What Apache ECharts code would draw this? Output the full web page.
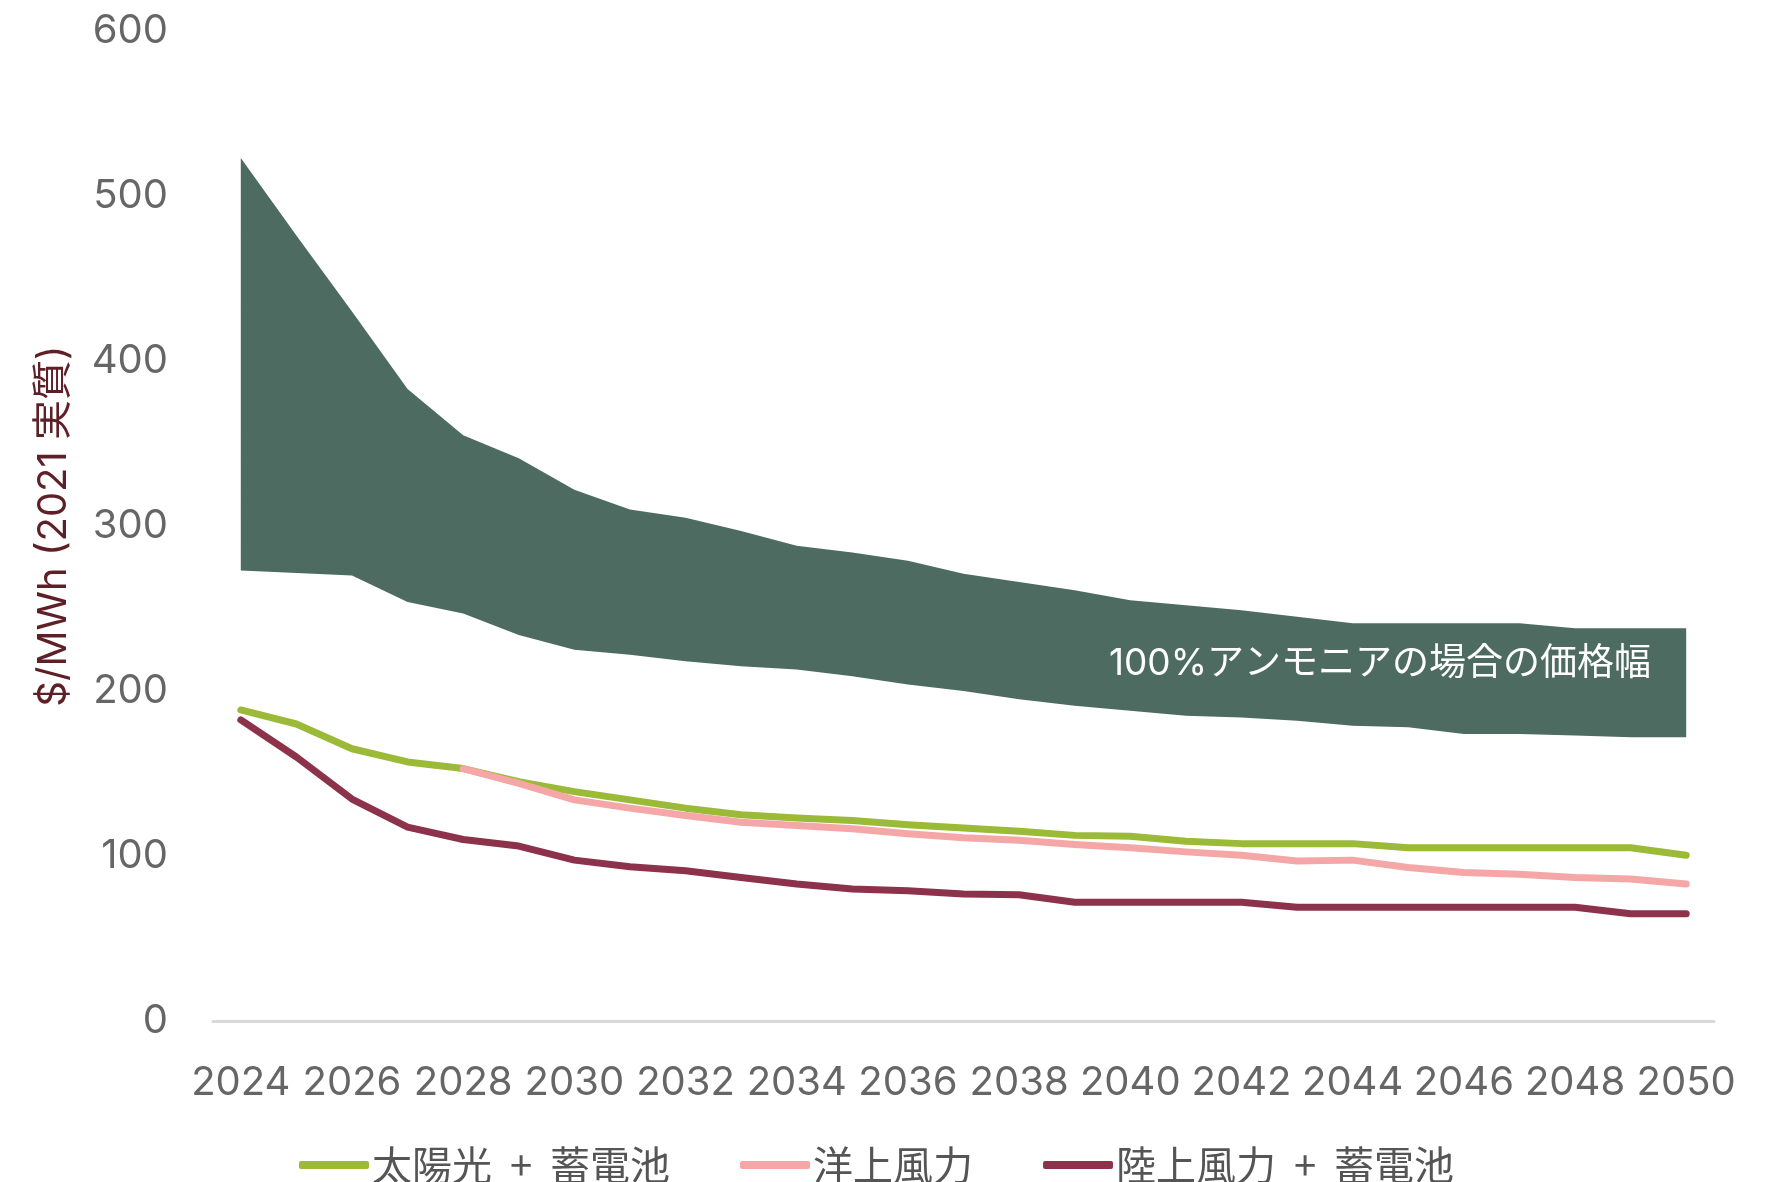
<!DOCTYPE html>
<html>
<head>
<meta charset="utf-8">
<script src="https://cdn.jsdelivr.net/npm/echarts@6/dist/echarts.min.js"></script>
<style>
  html, body { margin: 0; padding: 0; background: #fff; }
  #main { width: 1788px; height: 1182px; }
</style>
</head>
<body>
<div id="main"></div>
<script>
/* データ */
var years = ['2024', '2025', '2026', '2027', '2028', '2029', '2030', '2031', '2032', '2033', '2034', '2035', '2036', '2037',
    '2038', '2039', '2040', '2041', '2042', '2043', '2044', '2045', '2046', '2047', '2048', '2049', '2050'];
var yTicks = [0, 100, 200, 300, 400, 500, 600];

// 100%アンモニアの場合の価格幅 (下限・上限)
var bandLow = [273, 271.5, 270, 254, 247, 234, 225, 222, 218, 215, 213, 209, 204, 200,
    195, 191, 188, 185, 184, 182, 179, 178, 174, 174, 173, 172, 172];
var bandHigh = [523, 476, 430, 383, 355, 341, 322, 310, 305, 297, 288, 284, 279, 271,
    266, 261, 255, 252, 249, 245, 241, 241, 241, 241, 238, 238, 238];

// 太陽光 + 蓄電池
var solarBattery = [188.5, 180, 165, 157, 153, 145, 139, 134, 129, 125, 123, 121.5, 119, 117,
    115, 112.5, 112, 109, 107.5, 107.5, 107.5, 105, 105, 105, 105, 105, 100.5];
// 洋上風力
var offshoreWind = [null, null, null, null, 153, 144, 134, 129, 124.5, 120.5, 118.5, 116.5, 113.5, 111,
    109.5, 107, 105, 102.5, 100.5, 97, 97.5, 93, 90, 89, 87, 86, 83];
// 陸上風力 + 蓄電池
var onshoreBattery = [182.5, 160, 134.5, 117.5, 110, 106, 97.5, 93.5, 91, 87, 83, 80, 79, 77,
    76.5, 72, 72, 72, 72, 69, 69, 69, 69, 69, 69, 65, 65];

(function () {
    var myChart = echarts.init(document.getElementById('main'));
    var bandWidth = bandHigh.map(function (v, i) { return v - bandLow[i]; });
    var latin = 'Inter, "Noto Sans CJK JP", sans-serif';

    var option = {
        animation: false,
        backgroundColor: '#ffffff',
        textStyle: { fontFamily: latin },
        grid: {
            left: 213,
            right: 74,
            top: 31,
            bottom: 161,
            containLabel: false
        },
        legend: {
            data: ['太陽光 + 蓄電池', '洋上風力', '陸上風力 + 蓄電池'],
            top: 1140,
            left: 294,
            icon: 'roundRect',
            itemWidth: 70,
            itemHeight: 8,
            itemGap: 70,
            formatter: function (name) {
                return name.replace(' + ', '  +  '); // 「+」の前後を広めに
            },
            textStyle: {
                fontSize: 40,
                color: '#555555',
                fontFamily: '"Noto Sans CJK JP", sans-serif',
                padding: [0, 0, 0, -2]
            }
        },
        xAxis: {
            type: 'category',
            data: years,
            boundaryGap: true,
            axisLine: { lineStyle: { color: '#d9d9d9', width: 3 } },
            axisTick: { show: false },
            axisLabel: {
                interval: 1,
                margin: 42,
                fontSize: 40,
                color: '#666666'
            },
            splitLine: { show: false }
        },
        yAxis: {
            type: 'value',
            min: yTicks[0],
            max: yTicks[yTicks.length - 1],
            interval: 100,
            name: '$/MWh (2021 実質)',
            nameLocation: 'middle',
            nameGap: 139,
            nameTextStyle: {
                fontSize: 40,
                color: '#5e1f26',
                fontFamily: latin
            },
            axisLine: { show: false },
            axisTick: { show: false },
            splitLine: { show: false },
            axisLabel: {
                margin: 45,
                fontSize: 40,
                color: '#666666'
            }
        },
        graphic: [{
            type: 'text',
            x: 1380,
            y: 664,
            style: {
                text: '100%アンモニアの場合の価格幅',
                fill: '#ffffff',
                font: '37px Inter, "Noto Sans CJK JP", sans-serif',
                align: 'center',
                verticalAlign: 'middle'
            },
            z: 100
        }],
        series: [
            {
                name: 'bandBase',
                type: 'line',
                stack: 'band',
                data: bandLow,
                symbol: 'none',
                silent: true,
                lineStyle: { opacity: 0 }
            },
            {
                name: 'band',
                type: 'line',
                stack: 'band',
                data: bandWidth,
                symbol: 'none',
                silent: true,
                lineStyle: { opacity: 0 },
                areaStyle: { color: '#4e6b62', opacity: 1 }
            },
            {
                name: '太陽光 + 蓄電池',
                type: 'line',
                data: solarBattery,
                symbol: 'none',
                color: '#9bba38',
                lineStyle: { width: 7, color: '#9bba38', cap: 'round', join: 'round' }
            },
            {
                name: '洋上風力',
                type: 'line',
                data: offshoreWind,
                symbol: 'none',
                color: '#f4a7a6',
                lineStyle: { width: 7, color: '#f4a7a6', cap: 'round', join: 'round' }
            },
            {
                name: '陸上風力 + 蓄電池',
                type: 'line',
                data: onshoreBattery,
                symbol: 'none',
                color: '#8c334b',
                lineStyle: { width: 7, color: '#8c334b', cap: 'round', join: 'round' }
            }
        ]
    };
    myChart.setOption(option);
})();
</script>
</body>
</html>
